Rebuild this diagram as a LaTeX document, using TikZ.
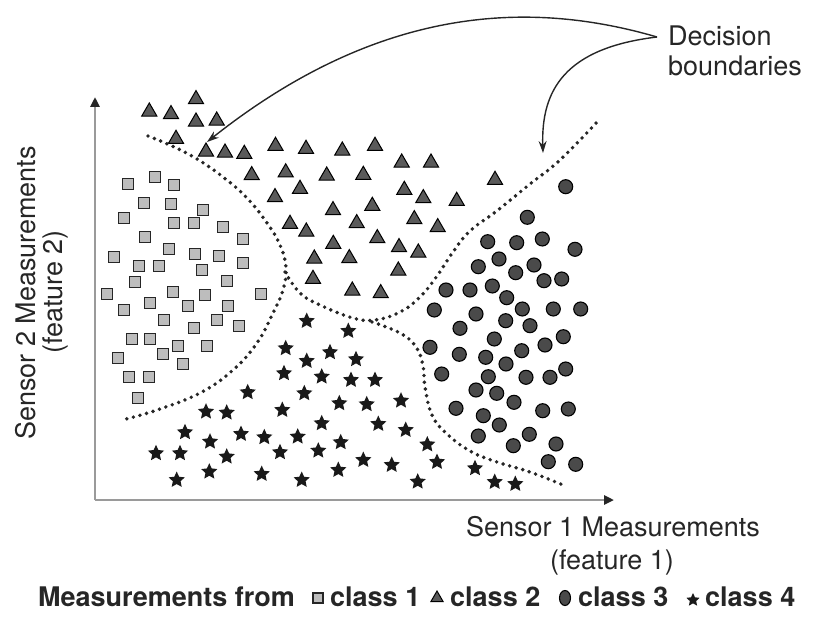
\documentclass[tikz,border=0pt]{standalone}
\usepackage{fontspec}
\setmainfont{TeX Gyre Heros}
\usetikzlibrary{shapes.geometric,arrows.meta}
\definecolor{sqfill}{HTML}{BDBDBD}
\definecolor{trifill}{HTML}{5A5A5A}
\definecolor{cirfill}{HTML}{4A4A4A}
\definecolor{ink}{HTML}{262626}
\definecolor{axisgray}{HTML}{9A9A9A}
\begin{document}
\begin{tikzpicture}[x=1pt,y=-1pt,
 sqm/.style={rectangle,draw=ink,fill=sqfill,line width=1.1pt,minimum size=11pt,inner sep=0pt},
 trim/.style={regular polygon,regular polygon sides=3,draw=black,fill=trifill,line width=1pt,minimum size=17.5pt,inner sep=0pt},
 cim/.style={circle,draw=black,fill=cirfill,line width=1.1pt,minimum size=14pt,inner sep=0pt},
 stm/.style={star,star points=5,star point ratio=2.1,fill=black!90,draw=none,minimum size=17pt,inner sep=0pt},
 boundary/.style={draw=ink,line width=3.9pt,line cap=round,dash pattern=on 0pt off 6.8pt},
 axisline/.style={draw=axisgray,line width=2.6pt,-{Triangle[length=10pt,width=9pt,color=ink]}},
 pointer/.style={draw=ink,line width=1.4pt,-{Stealth[length=12pt,width=8pt]}},
 lbl/.style={font=\fontsize{27}{32}\selectfont,text=ink,inner sep=0pt,align=center},
 leg/.style={font=\bfseries\fontsize{27}{32}\selectfont,text=ink,inner sep=0pt,anchor=west}
]
\useasboundingbox (0,0) rectangle (818,620);

% axes
\coordinate (origin) at (95,500);
\coordinate (ytop) at (95,97);
\coordinate (xend) at (614,500);
\draw[axisline] (origin) -- (ytop);
\draw[axisline] (origin) -- (xend);

% class 1 squares
\foreach \x/\y [count=\i] in {127.7/184, 155.3/176.7, 174/185.3, 144/202.7, 170.7/204, 202.7/210, 124.3/218.3, 174.3/223.3, 194/223.3, 222.7/226.7, 145/237.3, 243.3/239, 169/249.3, 114/256.7, 195.3/253.7, 219.3/256, 139/266, 159/266, 202.3/270, 243.3/263.3, 135/282.3, 226.7/281, 107/294.3, 172.7/292.3, 204.7/295, 260.7/294.3, 124.3/310, 150.3/302.7, 188/306, 227.7/306, 164/320, 217/320, 193.7/328.3, 238.7/325.7, 131.7/339.3, 150/339.3, 178/345.7, 206.7/345.7, 117.7/358.3, 163.3/354.3, 183.3/364.3, 129/377.3, 148.7/377.3, 138.3/397.7}
  {\node[sqm] (sq\i) at (\x,\y) {};}

% class 2 triangles
\foreach \x/\y [count=\i] in {196/99.3, 149.3/111.7, 171/114.3, 196/121.7, 216.7/120.7, 176/139, 206/151.7, 225/152.7, 244.3/154, 275.5/146, 306/149, 342.3/150.7, 375/146, 401.7/162.7, 431/162.7, 495/180, 251.7/175.3, 285.7/172.5, 326.7/175.7, 363.3/175, 300/189, 275/197.3, 404.3/190, 423.3/198.3, 456.7/201, 333/210.3, 372.3/206, 290/224, 306.3/231.7, 356.7/223.3, 414.3/219.3, 437.7/227.3, 333.3/244, 377.3/238.3, 399/247.3, 418.3/252.7, 314.3/258.7, 349.3/258.3, 398.3/270.7, 313/279, 352.3/290.7, 380.7/293.3}
  {\node[trim] (tr\i) at (\x,\y) {};}

% class 3 circles
\foreach \x/\y [count=\i] in {565.7/186.7, 527.3/217.3, 487.7/241.7, 516.7/242.7, 542.3/239, 575/249.3, 499/259, 478.3/266.7, 515.7/272.7, 534/265, 544/280.7, 561.7/279, 446/290, 470/290, 492.3/286, 506.7/297.7, 522.3/309, 553.3/309, 580.7/309, 434.3/310, 476/314, 505.7/320.7, 530/325.7, 460/328.3, 494.3/339, 563.3/336.7, 545/345, 521.7/350.7, 430/347.3, 459.3/354.3, 485.7/357.3, 506/364, 565.7/369, 550/377.3, 526/377.3, 488.3/376.7, 441.7/374, 476/390, 496.7/393.3, 514/402.3, 456/408.3, 483.3/415.7, 499.3/425, 542.7/410.7, 568.3/409, 478.3/436, 513.3/445.7, 529.3/434.3, 556/444, 548.3/461.7, 575.7/464.3}
  {\node[cim] (ci\i) at (\x,\y) {};}

% class 4 stars
\foreach \x/\y [count=\i] in {306.7/321, 348.3/331, 285.7/348.3, 330/352.3, 306.7/361, 356/359.3, 284/373.3, 321.7/376.7, 351/380, 375/380, 247.7/392.3, 304.3/393.3, 339.3/403.3, 366.7/404.3, 401/400.7, 206/411.7, 226.7/412.7, 282.3/410, 321.7/423.3, 378.3/424, 405.7/430, 185/432.3, 210/441.7, 241/434, 264.3/437.3, 297.7/436.7, 340.7/442.3, 156/453.3, 180/453.3, 226.7/456.7, 280/452.3, 318.3/450.7, 363.3/460, 391.7/465, 176.7/480, 209.3/471.7, 261.7/474, 301.7/480, 338.3/470, 417.7/481.7, 427.3/444.5, 437/462, 475/468.3, 494.7/482, 515.3/484}
  {\node[stm] (st\i) at (\x,\y) {};}

% decision boundaries
\draw[boundary] plot[smooth,tension=0.7] coordinates {(148,136) (172,146) (197,159) (223,177) (247,198) (267,223) (280,245) (286,268) (283,290) (273,313) (257,343) (233,370) (200,393) (157,410) (126,419)};
\draw[boundary] plot[smooth,tension=0.7] coordinates {(285,272) (300,293) (320,305) (353,318) (375,320) (400,312) (420,297) (437,276) (453,252) (470,231) (498,210) (530,184) (560,160) (598,121)};
\draw[boundary] plot[smooth,tension=0.7] coordinates {(372,322) (400,333) (416,347) (423,366) (425,387) (432,415) (446,433) (470,451) (497,462) (530,472) (563,485)};

% labels
\node[lbl,anchor=west] (dec) at (668,36) {Decision};
\node[lbl,anchor=west] (bnd) at (668,66) {boundaries};
\coordinate (junc) at (657,37);
\coordinate (tipL) at (207,142);
\coordinate (tipR) at (543,153);
\draw[pointer] (junc) .. controls (530,0) and (380,5) .. (tipL);
\draw[pointer] (junc) .. controls (565,48) and (541,90) .. (tipR);

\node[lbl] (xl1) at (613,527) {Sensor 1 Measurements};
\node[lbl] (xl2) at (612,562) {(feature 1)};
\node[lbl,rotate=90] (yl1) at (26,293) {Sensor 2 Measurements};
\node[lbl,rotate=90] (yl2) at (55,292) {(feature 2)};

% legend
\node[leg] (legt) at (38,597) {Measurements from};
\node[sqm,minimum size=10pt] (lsq) at (318,598) {};
\node[leg] (lc1) at (330,597) {class 1};
\node[trim,minimum size=14pt] (ltr) at (437,598) {};
\node[leg] (lc2) at (450,597) {class 2};
\node[ellipse,draw=black,fill=cirfill,line width=1.1pt,minimum width=11pt,minimum height=15pt,inner sep=0pt] (lci) at (565,598) {};
\node[leg] (lc3) at (578,597) {class 3};
\node[stm,minimum size=14pt] (lst) at (693,600) {};
\node[leg] (lc4) at (705,597) {class 4};
\end{tikzpicture}
\end{document}
